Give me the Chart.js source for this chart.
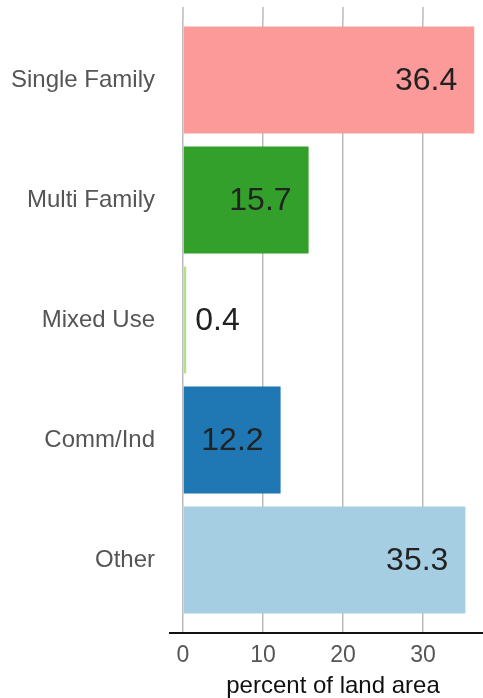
<!DOCTYPE html>
<html>
<head>
<meta charset="utf-8">
<script src="https://cdn.jsdelivr.net/npm/chart.js@4"></script>
<style>
  body { margin: 0; background: #fff; }
  #wrap { width: 483px; height: 698px; position: relative; }
</style>
</head>
<body>
<div id="wrap"><canvas id="landChart"></canvas></div>
<script>
// data
const categories = ["Single Family", "Multi Family", "Mixed Use", "Comm/Ind", "Other"];
const landShare = [36.4, 15.7, 0.4, 12.2, 35.3];
const barColors = ["#fb9a99", "#33a02c", "#b2df8a", "#1f78b4", "#a6cee3"];
const xTicks = [0, 10, 20, 30];
const xTitle = "percent of land area";

const FONT = "'Liberation Sans', Arial, Helvetica, sans-serif";

// grid lines poke out above the bars + black baseline below
const frame = {
  id: "frame",
  beforeDatasetsDraw(chart) {
    const { ctx, chartArea, scales } = chart;
    ctx.save();
    ctx.strokeStyle = "#bbbbbb";
    ctx.lineWidth = 1.5;
    scales.x.ticks.forEach((t) => {
      const px = scales.x.getPixelForValue(t.value);
      ctx.beginPath();
      ctx.moveTo(px, chartArea.top - 13);
      ctx.lineTo(px, chartArea.top);
      ctx.stroke();
    });
    ctx.restore();
  },
  afterDraw(chart) {
    const { ctx, chartArea } = chart;
    ctx.save();
    ctx.strokeStyle = "#111";
    ctx.lineWidth = 2;
    ctx.beginPath();
    ctx.moveTo(chartArea.left - 14, chartArea.bottom + 13);
    ctx.lineTo(chart.width, chartArea.bottom + 13);
    ctx.stroke();
    ctx.restore();
  },
};

// value labels at the bar ends
const valueLabels = {
  id: "valueLabels",
  afterDatasetsDraw(chart) {
    const { ctx } = chart;
    const meta = chart.getDatasetMeta(0);
    ctx.save();
    ctx.font = "32px " + FONT;
    ctx.fillStyle = "#222";
    ctx.textBaseline = "middle";
    meta.data.forEach((bar, i) => {
      const v = landShare[i];
      if (v < 5) {
        ctx.textAlign = "left";
        ctx.fillText(v.toFixed(1), bar.x + 9, bar.y + 1);
      } else {
        ctx.textAlign = "right";
        ctx.fillText(v.toFixed(1), bar.x - 17, bar.y + 1);
      }
    });
    ctx.restore();
  },
};

new Chart(document.getElementById("landChart").getContext("2d"), {
  type: "bar",
  data: {
    labels: categories,
    datasets: [
      {
        data: landShare,
        backgroundColor: barColors,
        borderWidth: 0,
        categoryPercentage: 1,
        barPercentage: 0.89,
      },
    ],
  },
  options: {
    indexAxis: "y",
    responsive: true,
    maintainAspectRatio: false,
    animation: false,
    layout: { padding: { top: 20, right: 0, left: 0, bottom: 0 } },
    plugins: { legend: { display: false }, tooltip: { enabled: false } },
    scales: {
      x: {
        min: 0,
        max: 37.5,
        afterBuildTicks: (scale) => {
          scale.ticks = xTicks.map((v) => ({ value: v }));
        },
        afterFit: (scale) => { scale.height = 78; },
        grid: { color: "#bbbbbb", lineWidth: 1.5, tickLength: 13, drawTicks: true },
        border: { display: false },
        ticks: { color: "#555", font: { family: FONT, size: 23 }, padding: 9, maxRotation: 0 },
        title: {
          display: true,
          text: xTitle,
          color: "#111",
          font: { family: FONT, size: 24, lineHeight: 1 },
          padding: { top: 0, bottom: 0 },
        },
      },
      y: {
        afterFit: (scale) => {
          scale.width = 183;
          scale.paddingTop = 0;
          scale.paddingBottom = 0;
        },
        grid: { display: false, drawTicks: false },
        border: { display: false },
        ticks: { color: "#555", font: { family: FONT, size: 24 }, padding: 28 },
      },
    },
  },
  plugins: [frame, valueLabels],
});
</script>
</body>
</html>
